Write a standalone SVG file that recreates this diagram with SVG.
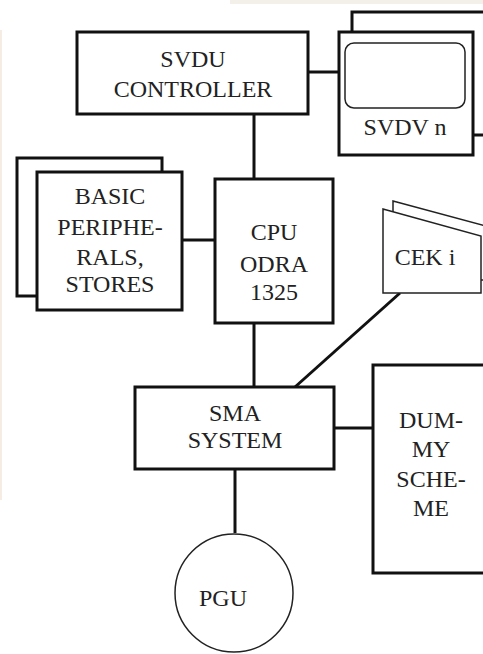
<svg xmlns="http://www.w3.org/2000/svg" width="483" height="654" viewBox="0 0 483 654">
<style>
.box{fill:#fff;stroke:#111;stroke-width:3}
.thin{fill:#fff;stroke:#222;stroke-width:1.5}
.ln{fill:none;stroke:#111;stroke-width:3}
text{font-family:'Liberation Serif','Times New Roman',serif;font-size:24px;fill:#222;text-anchor:middle}
</style>
<rect x="0" y="0" width="483" height="654" fill="#fff"/>
<rect x="230" y="0" width="253" height="4" fill="#f3efe9"/>
<rect x="0" y="30" width="2" height="470" fill="#f5ede3"/>
<g id="connectors">
<line class="ln" x1="254" y1="114" x2="254" y2="179"/>
<line class="ln" x1="308" y1="72" x2="339" y2="72"/>
<line class="ln" x1="182" y1="240" x2="215" y2="240"/>
<line class="ln" x1="254" y1="323" x2="254" y2="387"/>
<line class="ln" x1="295" y1="387" x2="400" y2="293"/>
<line class="ln" x1="334" y1="428" x2="373" y2="428"/>
<line class="ln" x1="235" y1="469" x2="235" y2="533"/>
</g>
<g id="svdu-controller">
<rect class="box" x="77" y="32" width="231" height="82"/>
<text x="193" y="67">SVDU</text>
<text x="193" y="97">CONTROLLER</text>
</g>
<g id="svdv-n">
<rect class="box" x="352" y="12" width="140" height="123"/>
<rect class="box" x="339" y="32" width="134" height="123"/>
<rect class="thin" x="345" y="43" width="120" height="65" rx="9"/>
<text x="405" y="135" font-size="23">SVDV n</text>
</g>
<g id="basic-peripherals">
<rect class="box" x="17" y="158" width="145" height="138"/>
<rect class="box" x="37" y="172" width="145" height="138"/>
<text x="110" y="204">BASIC</text>
<text x="110" y="235">PERIPHE-</text>
<text x="110" y="265">RALS,</text>
<text x="110" y="292">STORES</text>
</g>
<g id="cpu">
<rect class="box" x="215" y="179" width="118" height="144"/>
<text x="274" y="240">CPU</text>
<text x="274" y="272">ODRA</text>
<text x="274" y="300">1325</text>
</g>
<g id="cek-i">
<polygon class="thin" points="393,201 486,226 486,280 393,280"/>
<polygon class="thin" points="383,209 481,236 481,293 383,293"/>
<text x="425" y="265" font-size="22">CEK i</text>
</g>
<g id="sma-system">
<rect class="box" x="135" y="387" width="199" height="82"/>
<text x="235" y="421">SMA</text>
<text x="235" y="448">SYSTEM</text>
</g>
<g id="dummy-scheme">
<rect class="box" x="373" y="365" width="120" height="208"/>
<text x="431" y="428">DUM-</text>
<text x="431" y="457">MY</text>
<text x="431" y="487">SCHE-</text>
<text x="431" y="516">ME</text>
</g>
<g id="pgu">
<circle class="thin" cx="234" cy="593" r="59"/>
<text x="223" y="606">PGU</text>
</g>
</svg>
